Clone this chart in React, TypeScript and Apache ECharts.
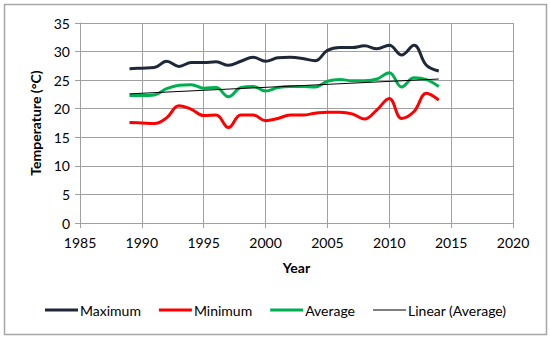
import React, { useEffect, useRef } from "react";
import * as echarts from "echarts";

const years = [1989,1990,1991,1992,1993,1994,1995,1996,1997,1998,1999,2000,2001,2002,2003,2004,2005,2006,2007,2008,2009,2010,2011,2012,2013,2014];
const maximum = [27.0,27.1,27.2,28.3,27.4,28.1,28.1,28.2,27.6,28.3,29.0,28.3,28.9,29.0,28.8,28.4,30.2,30.7,30.7,31.0,30.5,31.1,29.4,31.1,27.6,26.6];
const minimum = [17.6,17.5,17.4,18.4,20.5,19.9,18.8,18.9,16.7,18.9,18.9,17.9,18.3,18.9,18.9,19.2,19.4,19.4,19.1,18.2,19.8,21.8,18.3,19.5,22.7,21.5];
const average = [22.3,22.3,22.4,23.5,24.1,24.2,23.6,23.7,22.1,23.7,23.9,23.1,23.7,23.9,23.9,23.8,24.8,25.1,24.9,24.9,25.2,26.3,23.8,25.4,25.1,23.9];
const trendYears = [1989, 2014];
const trendValues = [22.6, 25.2];

const FONT = "Lato, 'Open Sans', sans-serif";
const THICK_ICON = "path://M0,0L33,0L33,3L0,3Z";
const THIN_ICON = "path://M0,0L33,0L33,1L0,1Z";

export default function App() {
  const ref = useRef<HTMLDivElement>(null);
  useEffect(() => {
    if (!ref.current) return;
    const chart = echarts.init(ref.current, undefined, { renderer: "svg" });
    const pair = (arr: number[]) => years.map((y, i) => [y, arr[i]]);
    chart.setOption({
      animation: false,
      textStyle: { fontFamily: FONT },
      graphic: [
        {
          type: "rect",
          shape: { x: 4.5, y: 4.5, width: 542, height: 330 },
          style: { fill: "none", stroke: "#a6a6a6", lineWidth: 1.5 },
          silent: true,
        },
      ],
      grid: { left: 80, right: 37, top: 23, bottom: 117 },
      xAxis: {
        type: "value",
        min: 1985,
        max: 2020,
        interval: 5,
        name: "Year",
        nameLocation: "middle",
        nameGap: 37,
        nameTextStyle: { fontFamily: FONT, fontSize: 14, fontWeight: "bold", color: "#000" },
        axisLine: { show: true, lineStyle: { color: "#a0a0a0", width: 1 } },
        axisTick: { show: true, length: 5, lineStyle: { color: "#a0a0a0" } },
        axisLabel: { fontFamily: FONT, fontSize: 14, color: "#000", margin: 12, formatter: (v: number) => String(v) },
        splitLine: { show: true, lineStyle: { color: "#a0a0a0", width: 1 } },
      },
      yAxis: {
        type: "value",
        min: 0,
        max: 35,
        interval: 5,
        name: "Temperature (°C)",
        nameLocation: "middle",
        nameGap: 37,
        nameRotate: 90,
        nameTextStyle: { fontFamily: FONT, fontSize: 14, fontWeight: "bold", color: "#000" },
        axisLine: { show: true, lineStyle: { color: "#a0a0a0", width: 1 } },
        axisTick: { show: true, length: 5, lineStyle: { color: "#a0a0a0" } },
        axisLabel: { fontFamily: FONT, fontSize: 14, color: "#000", margin: 10 },
        splitLine: { show: true, lineStyle: { color: "#a0a0a0", width: 1 } },
      },
      legend: {
        bottom: 18,
        left: 40,
        itemWidth: 33,
        itemHeight: 3,
        itemGap: 18,
        textStyle: { fontFamily: FONT, fontSize: 14, color: "#000", padding: [0, 0, 0, -3] },
        data: [
          { name: "Maximum", icon: THICK_ICON },
          { name: "Minimum", icon: THICK_ICON },
          { name: "Average", icon: THICK_ICON },
          { name: "Linear (Average)", icon: THIN_ICON },
        ],
      },
      series: [
        {
          name: "Maximum",
          type: "line",
          data: pair(maximum),
          smooth: 0.4,
          symbol: "none",
          lineStyle: { color: "#1f2838", width: 3 },
          itemStyle: { color: "#1f2838" },
        },
        {
          name: "Minimum",
          type: "line",
          data: pair(minimum),
          smooth: 0.4,
          symbol: "none",
          lineStyle: { color: "#ff0000", width: 3 },
          itemStyle: { color: "#ff0000" },
        },
        {
          name: "Average",
          type: "line",
          data: pair(average),
          smooth: 0.4,
          symbol: "none",
          lineStyle: { color: "#00b050", width: 3 },
          itemStyle: { color: "#00b050" },
        },
        {
          name: "Linear (Average)",
          type: "line",
          data: trendYears.map((y, i) => [y, trendValues[i]]),
          symbol: "none",
          lineStyle: { color: "#000000", width: 1 },
          itemStyle: { color: "#000000" },
          z: 5,
        },
      ],
    });
    return () => chart.dispose();
  }, []);
  return (
    <div
      ref={ref}
      style={{ position: "fixed", left: 0, top: 0, width: 550, height: 340, background: "#fff" }}
    />
  );
}
